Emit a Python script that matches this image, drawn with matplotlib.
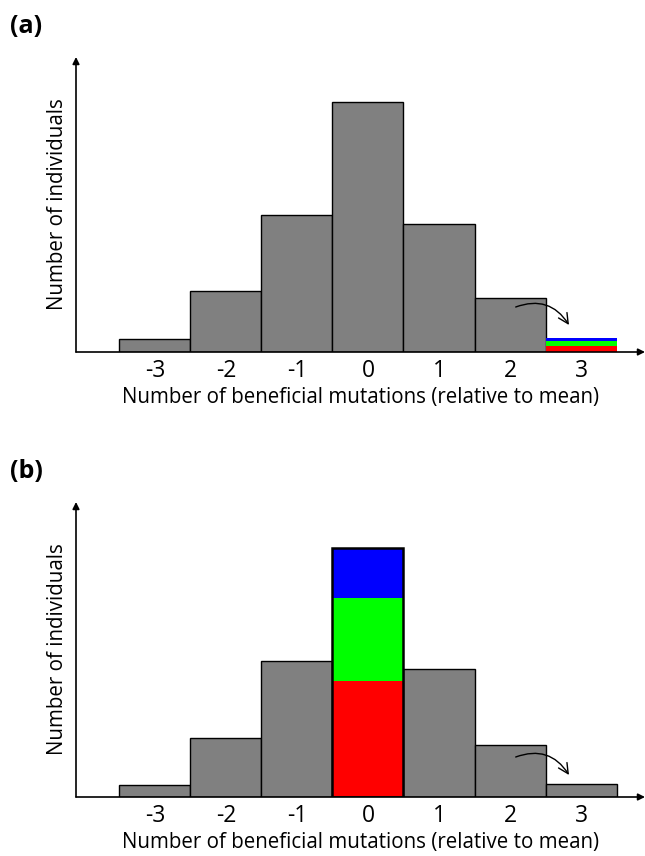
import matplotlib
matplotlib.use('Agg')
import matplotlib.pyplot as plt

plt.rcParams['font.family'] = ['Open Sans', 'DejaVu Sans']

# bins (relative to mean)
bins = [-3, -2, -1, 0, 1, 2, 3]
tick_labels = ['-3', '-2', '-1', '0', '1', '2', '3']

# panel (a): gray bars, the top bin split into red/green/blue
heights_a = [13, 61, 137, 250, 128, 54, 0]
top_red_a, top_green_a, top_blue_a = 6, 5, 3

# panel (b): middle bin split into red/green/blue
heights_b = [12, 59, 136, 0, 128, 52, 13]
mid_red_b, mid_green_b, mid_blue_b = 116, 83, 50

gray = '#808080'
xlabel = 'Number of beneficial mutations (relative to mean)'
ylabel = 'Number of individuals'

fig = plt.figure(figsize=(6.45, 8.56), dpi=100)


def setup(ax):
    ax.set_xlim(-4.11, 3.9)
    ax.set_ylim(0, 295)
    for s in ax.spines.values():
        s.set_visible(False)
    ax.set_yticks([])
    ax.set_xticks(bins)
    ax.set_xticklabels(tick_labels, fontsize=16.5)
    ax.tick_params(axis='x', length=0, pad=5)
    ax.set_xlabel(xlabel, fontsize=14.8, labelpad=3)
    ax.set_ylabel(ylabel, fontsize=14.8, labelpad=6)
    # axis arrows
    ax.annotate('', xy=(3.9, 0), xytext=(-4.11, 0), xycoords='data',
                arrowprops=dict(arrowstyle='-|>', color='black', lw=1.2,
                                mutation_scale=10, shrinkA=0, shrinkB=0),
                annotation_clip=False)
    ax.annotate('', xy=(-4.11, 295), xytext=(-4.11, 0), xycoords='data',
                arrowprops=dict(arrowstyle='-|>', color='black', lw=1.2,
                                mutation_scale=10, shrinkA=0, shrinkB=0),
                annotation_clip=False)


# (a)
ax1 = fig.add_axes([76 / 645, (856 - 352) / 856, 569 / 645, 295 / 856])
setup(ax1)
ax1.bar(bins[:-1], heights_a[:-1], width=1, color=gray, edgecolor='black', linewidth=1)
ax1.bar(3, top_red_a, width=1, color='red', linewidth=0)
ax1.bar(3, top_green_a, bottom=top_red_a, width=1, color='#00ff00', linewidth=0)
ax1.bar(3, top_blue_a, bottom=top_red_a + top_green_a, width=1, color='blue', linewidth=0)
ax1.annotate('', xy=(2.83, 27), xytext=(2.08, 45),
             arrowprops=dict(arrowstyle='->', color='black', lw=1, mutation_scale=18,
                             connectionstyle='arc3,rad=-0.4', shrinkA=0, shrinkB=0))
fig.text(10 / 645, 1 - 33 / 856, '(a)', fontsize=18, fontweight='bold')

# (b)
ax2 = fig.add_axes([76 / 645, (856 - 797) / 856, 569 / 645, 295 / 856])
setup(ax2)
bb = [b for b in bins if b != 0]
hb = [h for b, h in zip(bins, heights_b) if b != 0]
ax2.bar(bb, hb, width=1, color=gray, edgecolor='black', linewidth=1)
ax2.bar(0, mid_red_b, width=1, color='red', linewidth=0)
ax2.bar(0, mid_green_b, bottom=mid_red_b, width=1, color='#00ff00', linewidth=0)
ax2.bar(0, mid_blue_b, bottom=mid_red_b + mid_green_b, width=1, color='blue', linewidth=0)
ax2.bar(0, mid_red_b + mid_green_b + mid_blue_b, width=1, fill=False,
        edgecolor='black', linewidth=1.8)
ax2.annotate('', xy=(2.83, 22), xytext=(2.08, 40),
             arrowprops=dict(arrowstyle='->', color='black', lw=1, mutation_scale=18,
                             connectionstyle='arc3,rad=-0.4', shrinkA=0, shrinkB=0))
fig.text(10 / 645, 1 - 478 / 856, '(b)', fontsize=18, fontweight='bold')

fig.savefig('out.png', dpi=100)
